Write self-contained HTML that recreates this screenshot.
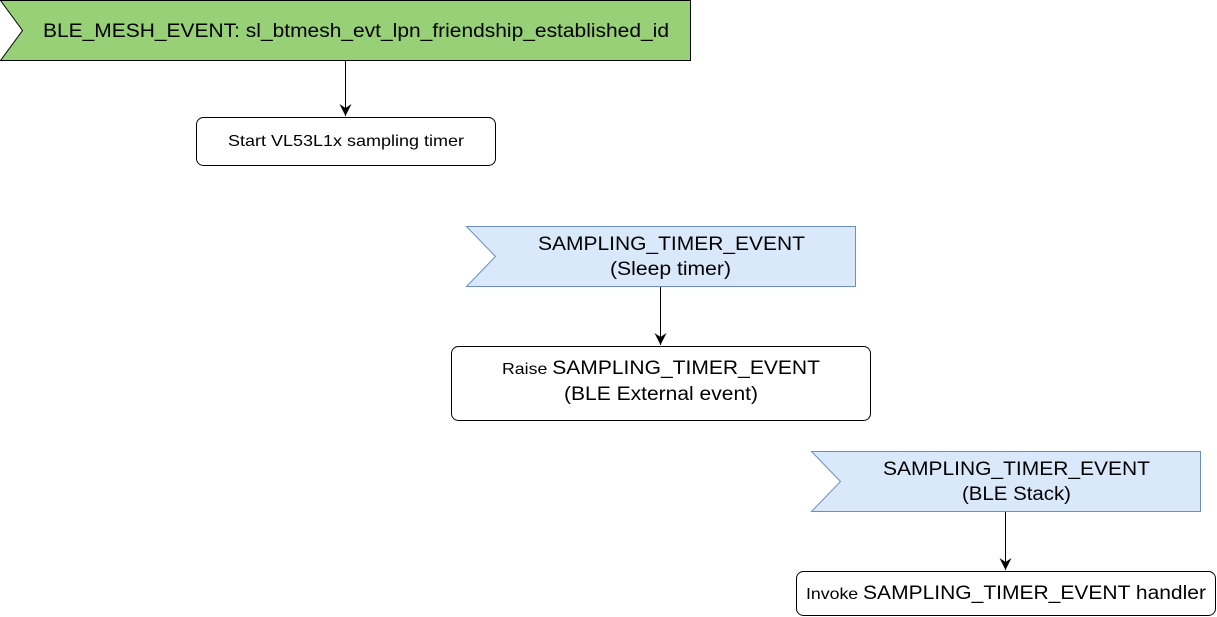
<!DOCTYPE html>
<html><head><style>
body{margin:0;background:#fff;}
svg{display:block;font-family:"Liberation Sans",Arial,sans-serif;}
</style></head><body>
<svg width="1217" height="617" viewBox="0 0 1217 617">
<defs><marker id="a" markerWidth="14" markerHeight="14" refX="12" refY="6" orient="auto" markerUnits="userSpaceOnUse"><path d="M0,0 L12,6 L0,12 L4,6 Z" fill="#000"/></marker></defs>
<polygon points="0.5,0.5 690.5,0.5 690.5,60.5 0.5,60.5 22.5,30.5" fill="#97d077" stroke="#000"/>
<text x="43" y="37" font-size="19" textLength="626" lengthAdjust="spacingAndGlyphs" fill="#000">BLE_MESH_EVENT: sl_btmesh_evt_lpn_friendship_established_id</text>
<line x1="345.5" y1="61" x2="345.5" y2="116" stroke="#000" marker-end="url(#a)"/>
<rect x="196.5" y="117.5" width="299" height="48" rx="7" fill="#fff" stroke="#000"/>
<text x="228" y="146" font-size="16" textLength="236" lengthAdjust="spacingAndGlyphs">Start VL53L1x sampling timer</text>

<polygon points="466.5,226.5 855.5,226.5 855.5,286.5 466.5,286.5 495.5,256.5" fill="#dae8fc" stroke="#6c8ebf"/>
<text x="538" y="250" font-size="19" textLength="267" lengthAdjust="spacingAndGlyphs">SAMPLING_TIMER_EVENT</text>
<text x="610" y="275" font-size="19" textLength="121" lengthAdjust="spacingAndGlyphs">(Sleep timer)</text>
<line x1="660.5" y1="287" x2="660.5" y2="345" stroke="#000" marker-end="url(#a)"/>
<rect x="451.5" y="346.5" width="419" height="74" rx="7" fill="#fff" stroke="#000"/>
<text x="502" y="374" font-size="19" textLength="318" lengthAdjust="spacingAndGlyphs"><tspan font-size="16">Raise </tspan>SAMPLING_TIMER_EVENT</text>
<text x="564" y="400" font-size="19" textLength="194" lengthAdjust="spacingAndGlyphs">(BLE External event)</text>

<polygon points="811.5,451.5 1200.5,451.5 1200.5,511.5 811.5,511.5 840.5,481.5" fill="#dae8fc" stroke="#6c8ebf"/>
<text x="883" y="475" font-size="19" textLength="267" lengthAdjust="spacingAndGlyphs">SAMPLING_TIMER_EVENT</text>
<text x="962" y="500" font-size="19" textLength="109" lengthAdjust="spacingAndGlyphs">(BLE Stack)</text>
<line x1="1005.5" y1="512" x2="1005.5" y2="570" stroke="#000" marker-end="url(#a)"/>
<rect x="796.5" y="571.5" width="419" height="44" rx="7" fill="#fff" stroke="#000"/>
<text x="806" y="599" font-size="19" textLength="400" lengthAdjust="spacingAndGlyphs"><tspan font-size="16">Invoke </tspan>SAMPLING_TIMER_EVENT handler</text>
</svg>
</body></html>
